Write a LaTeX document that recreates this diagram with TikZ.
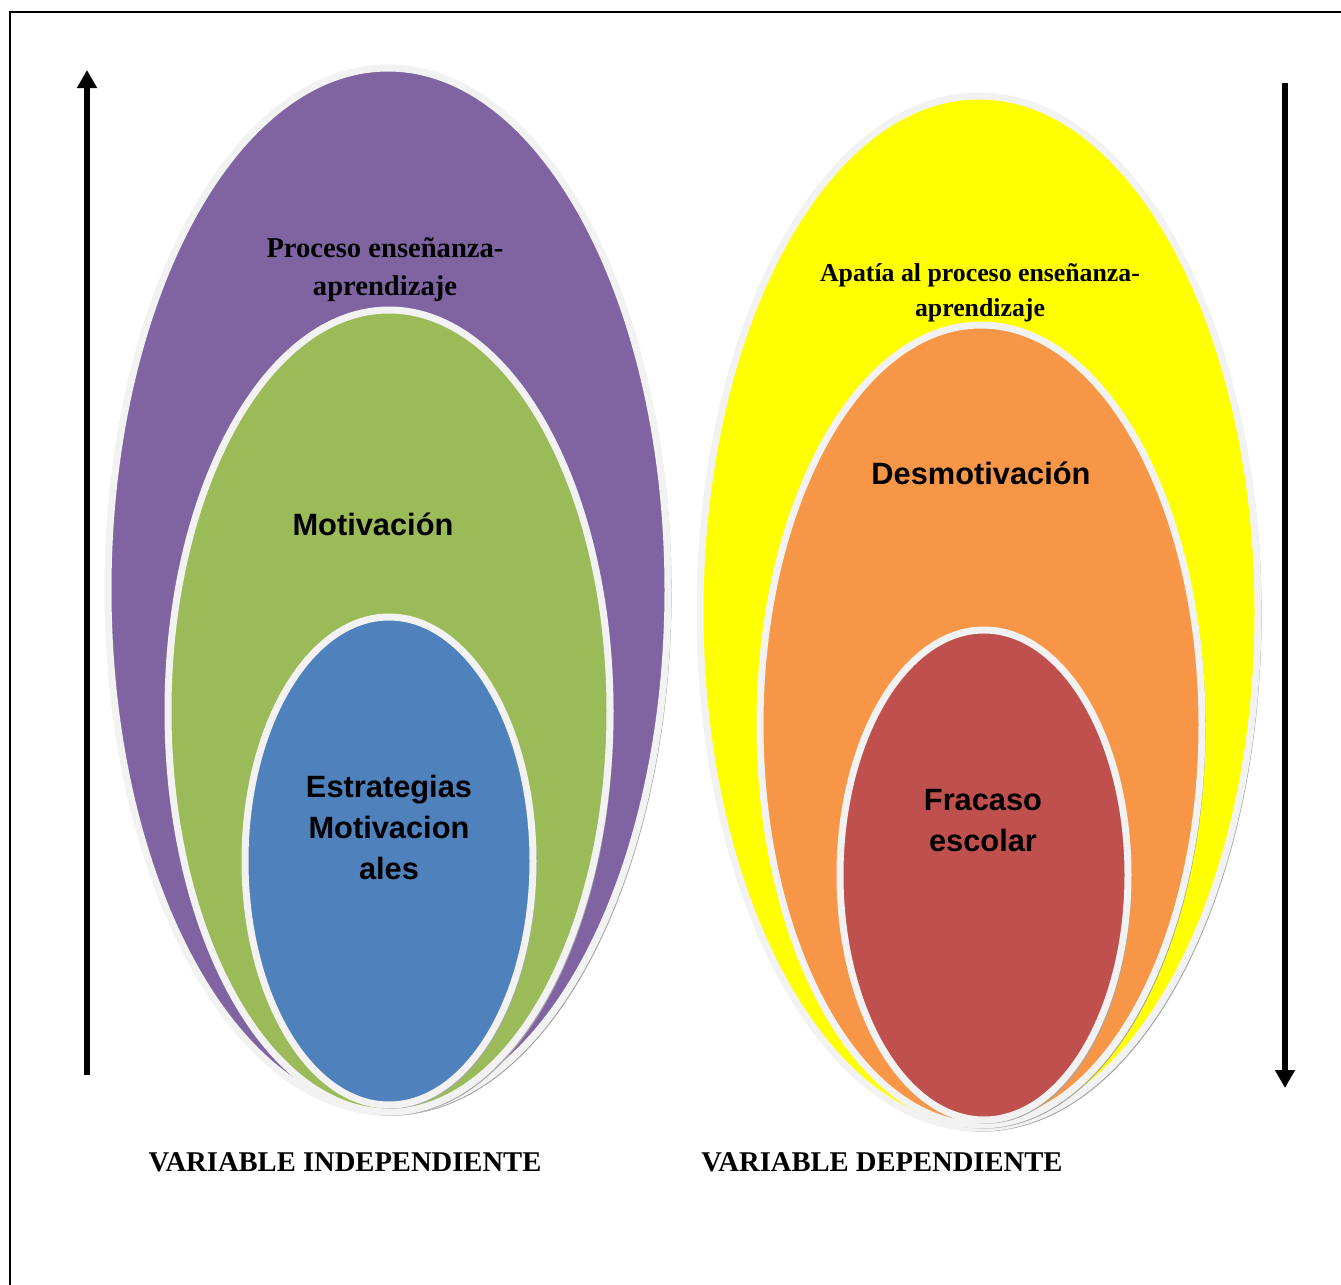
\documentclass[tikz,border=0pt]{standalone}
\usepackage{fontspec}
\setmainfont{Liberation Serif}
\setsansfont{Liberation Sans}
\usetikzlibrary{arrows.meta,shapes.geometric}

\definecolor{lila}{HTML}{8064A2}
\definecolor{verde}{HTML}{9BBB59}
\definecolor{azul}{HTML}{4F81BD}
\definecolor{amarillo}{HTML}{FFFF00}
\definecolor{naranja}{HTML}{F79646}
\definecolor{rojo}{HTML}{C0504D}
\definecolor{borde}{HTML}{F2F2F2}

\begin{document}
\begin{tikzpicture}[x=0.5pt,y=-0.5pt,
	capa/.style={ellipse,draw=borde,line width=3.5pt,inner sep=0pt},
	sombra/.style={ellipse,draw=black!35,line width=0.6pt,inner sep=0pt},
	rotulo/.style={font=\bfseries\fontsize{14.3pt}{19pt}\selectfont,align=center},
	rotuloSans/.style={font=\sffamily\bfseries\fontsize{15.4pt}{20.5pt}\selectfont,align=center}]
		\newcommand*{\flecha}{-{Triangle[width=9.5pt,length=9pt]}}

		\useasboundingbox (0,0) rectangle (1341,1285);
		\draw[line width=1pt] (10,12) rectangle (1360,1310);

		\coordinate(Ci) at	(388,590);
		\coordinate(Mi) at	(389,711);
		\coordinate(Ei) at	(389,861);
		\coordinate(Cd) at	(979,612);
		\coordinate(Md) at	(981,725);
		\coordinate(Ed) at	(984,875);

		% variable independiente
		\node[sombra,minimum width=280pt,minimum height=522pt] at ([shift={(3,3)}]Ci) {};
		\node[capa,fill=lila,minimum width=280pt,minimum height=522pt] (proceso) at (Ci) {};
		\node[sombra,minimum width=221pt,minimum height=401pt] at ([shift={(3,3)}]Mi) {};
		\node[capa,fill=verde,minimum width=221pt,minimum height=401pt] (motiv) at (Mi) {};
		\node[sombra,minimum width=144pt,minimum height=244pt] at ([shift={(3,3)}]Ei) {};
		\node[capa,fill=azul,minimum width=144pt,minimum height=244pt] (estrat) at (Ei) {};

		% variable dependiente
		\node[sombra,minimum width=279pt,minimum height=516pt] at ([shift={(3,3)}]Cd) {};
		\node[capa,fill=amarillo,minimum width=279pt,minimum height=516pt] (apatia) at (Cd) {};
		\node[sombra,minimum width=221pt,minimum height=400pt] at ([shift={(3,3)}]Md) {};
		\node[capa,fill=naranja,minimum width=221pt,minimum height=400pt] (desmotiv) at (Md) {};
		\node[sombra,minimum width=144pt,minimum height=245pt] at ([shift={(3,3)}]Ed) {};
		\node[capa,fill=rojo,minimum width=144pt,minimum height=245pt] (fracaso) at (Ed) {};

		\node[rotulo] (tProceso) at (385,270) {Proceso enseñanza-\\aprendizaje};
		\node[rotuloSans] (tMotiv) at (373,524) {Motivación};
		\node[rotuloSans] (tEstrat) at (389,827) {Estrategias\\Motivacion\\ales};
		\node[rotulo,font=\bfseries\fontsize{12.9pt}{17.5pt}\selectfont] (tApatia) at (980,293) {Apatía al proceso enseñanza-\\aprendizaje};
		\node[rotuloSans] (tDesmotiv) at (981,473) {Desmotivación};
		\node[rotuloSans] (tFracaso) at (983,821) {Fracaso\\escolar};

		\coordinate(Ai) at	(87,1075);
		\coordinate(Bi) at	(87,70);
		\coordinate(Ad) at	(1285,83);
		\coordinate(Bd) at	(1285,1088);
		\draw[\flecha,line width=3pt] (Ai) -- (Bi);
		\draw[\flecha,line width=3pt] (Ad) -- (Bd);

		\node[rotulo] (vInd) at (345,1162) {VARIABLE INDEPENDIENTE};
		\node[rotulo] (vDep) at (882,1162) {VARIABLE DEPENDIENTE};
\end{tikzpicture}
\end{document}
